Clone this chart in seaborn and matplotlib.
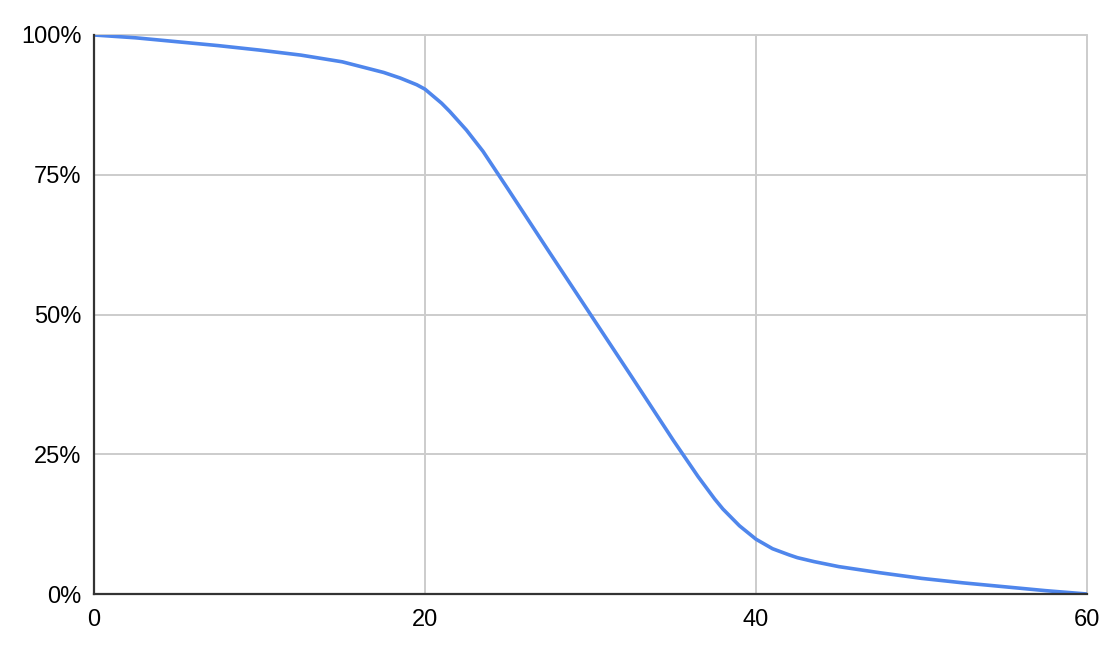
import matplotlib
matplotlib.use("Agg")
import matplotlib.pyplot as plt
import seaborn as sns
import pandas as pd
from matplotlib.ticker import PercentFormatter

# values
x_vals = [0, 2.5, 5, 7.5, 10, 12.5, 15, 17.5, 18.5, 19.5, 20, 21, 21.5, 22.5,
          23.5, 25, 27.5, 30, 32.5, 35, 36.5, 37.5, 38, 39, 40, 41, 42, 42.5,
          43.5, 45, 47.5, 50, 52.5, 55, 57.5, 60]
y_vals = [1.000, 0.995, 0.988, 0.981, 0.973, 0.964, 0.952, 0.933, 0.923, 0.911,
          0.903, 0.878, 0.863, 0.830, 0.792, 0.725, 0.612, 0.500, 0.388, 0.275,
          0.210, 0.170, 0.152, 0.122, 0.098, 0.081, 0.070, 0.065, 0.058, 0.049,
          0.038, 0.028, 0.020, 0.013, 0.006, 0.000]
x_ticks = [0, 20, 40, 60]
y_ticks = [0, 0.25, 0.5, 0.75, 1.0]

df = pd.DataFrame({"x": x_vals, "y": y_vals})

sns.set_style("white")
plt.rcParams["font.family"] = ["Liberation Sans", "DejaVu Sans"]

fig = plt.figure(figsize=(11.18, 6.64), dpi=100)
ax = fig.add_axes([0.0841, 0.1054, 0.8882, 0.8419])

sns.lineplot(data=df, x="x", y="y", ax=ax, color="#4f86ec", linewidth=2.6,
             zorder=3)

ax.set_xlim(0, 60)
ax.set_ylim(0, 1)
ax.set_xticks(x_ticks)
ax.set_yticks(y_ticks)
ax.yaxis.set_major_formatter(PercentFormatter(1.0, decimals=0))
ax.grid(True, color="#cccccc", linewidth=1.4)
ax.set_axisbelow(True)
for gl in ax.get_xgridlines() + ax.get_ygridlines():
    gl.set_clip_on(False)
for side in ["top", "right"]:
    ax.spines[side].set_visible(False)
for side in ["left", "bottom"]:
    ax.spines[side].set_color("#333333")
    ax.spines[side].set_linewidth(1.6)
    ax.spines[side].set_zorder(4)
ax.tick_params(axis="both", length=0, labelsize=17, colors="#000000")
ax.tick_params(axis="x", pad=11)
ax.tick_params(axis="y", pad=9)
ax.set_xlabel("")
ax.set_ylabel("")

fig.savefig("out.png", dpi=100)
